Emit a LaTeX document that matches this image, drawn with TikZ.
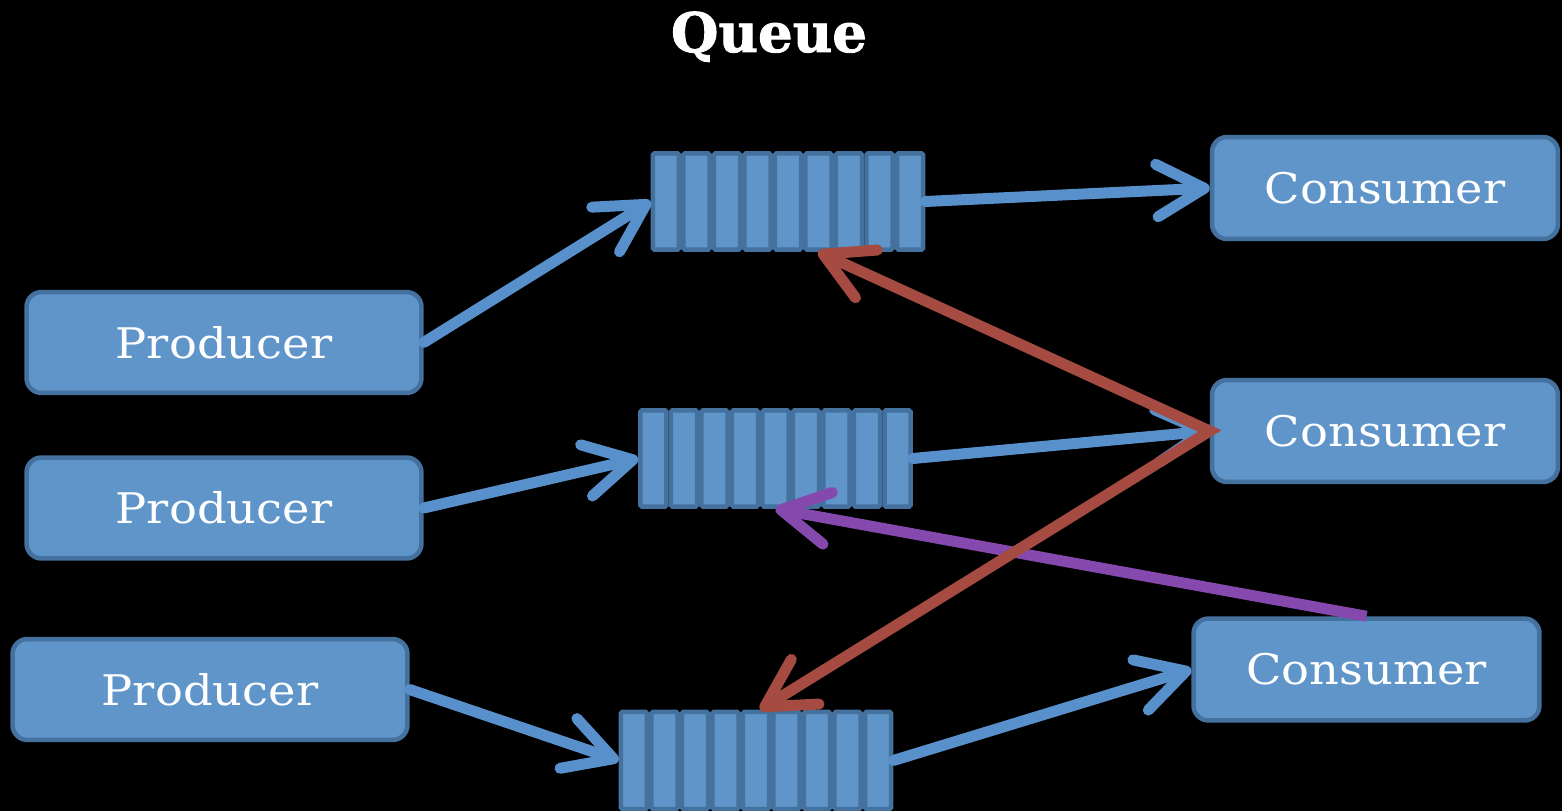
\documentclass[tikz,border=0pt]{standalone}
\usepackage{fontspec}
\setmainfont{DejaVu Serif}
\newfontfamily\boxfont[FakeStretch=1.1]{DejaVu Serif}
\newfontfamily\titlefont[FakeBold=1.6]{DejaVu Serif Bold}
\usetikzlibrary{arrows.meta,calc}
\definecolor{boxfill}{HTML}{5F95C9}
\definecolor{boxborder}{HTML}{44719E}
\definecolor{arrowblue}{HTML}{5890CB}
\definecolor{arrowred}{HTML}{A64B42}
\definecolor{arrowpurple}{HTML}{8549AE}
\begin{document}
\begin{tikzpicture}[x=0.02cm,y=-0.02cm,
  box/.style={draw=boxborder, fill=boxfill, line width=0.09cm, rounded corners=0.3cm,
    text=white, font=\boxfont\fontsize{24}{28}\selectfont, inner sep=0},
  prodbox/.style={box, minimum width=7.9cm, minimum height=2.02cm},
  consbox/.style={box, minimum width=6.92cm, minimum height=2.04cm},
  queue/.style={inner sep=0, minimum width=5.48cm, minimum height=2cm},
  cell/.style={draw=boxborder, fill=boxfill, line width=0.09cm, rounded corners=0.03cm},
  flowline/.style={line width=0.22cm},
  flow/.style={flowline, arrowblue, line cap=round, -{Straight Barb[length=0.95cm,width=1.05cm,round]}}]
\fill[black] (0,0) rectangle (1562,811);
\useasboundingbox (0,0) rectangle (1562,811);

\node[text=white, font=\titlefont\fontsize{31}{36}\selectfont, anchor=base] (title) at (769,52) {Queue};

\node[prodbox] (p1) at (224,342.5) {Producer};
\node[prodbox] (p2) at (224,508) {Producer};
\node[prodbox] (p3) at (210,689.5) {Producer};

\node[consbox] (c1) at (1385,188) {Consumer};
\node[consbox] (c2) at (1385,431) {Consumer};
\node[consbox] (c3) at (1366.5,669.5) {Consumer};

\node[queue] (q1) at (788,201.5) {};
\node[queue] (q2) at (775.5,458.5) {};
\node[queue, minimum height=2.02cm] (q3) at (756,760.5) {};

\foreach \q in {q1,q2,q3}{
  \foreach \i in {0,...,8}{
    \pgfmathsetmacro\qa{\i/9}
    \pgfmathsetmacro\qb{(\i+1)/9}
    \draw[cell] ($(\q.north west)!\qa!(\q.north east)+(2.2,2.2)$) rectangle ($(\q.south west)!\qb!(\q.south east)+(-2.2,-2.2)$);
  }
}

\draw[flow] (p1.east) -- (q1.west);
\draw[flow] (q1.east) -- (c1.west);
\draw[flow] (p2.east) -- (q2.west);
\draw[flow] (q2.east) -- (c2.west);
\draw[flow] (p3.east) -- (q3.west);
\draw[flow] (q3.east) -- (c3.west);

\draw[flowline, arrowpurple, line cap=butt, -{Straight Barb[length=0.95cm,width=1.05cm,round]}] (c3.north) -- (q2.south);

\coordinate (r1) at ($(q1.south west)!0.61!(q1.south east)$);
\coordinate (r3) at ($(q3.north west)!0.515!(q3.north east)$);
\draw[flowline, arrowred, line join=miter, {Straight Barb[length=0.95cm,width=1.05cm,round]}-{Straight Barb[length=0.95cm,width=1.05cm,round]}] (r1) -- (c2.west) -- (r3);
\end{tikzpicture}
\end{document}
